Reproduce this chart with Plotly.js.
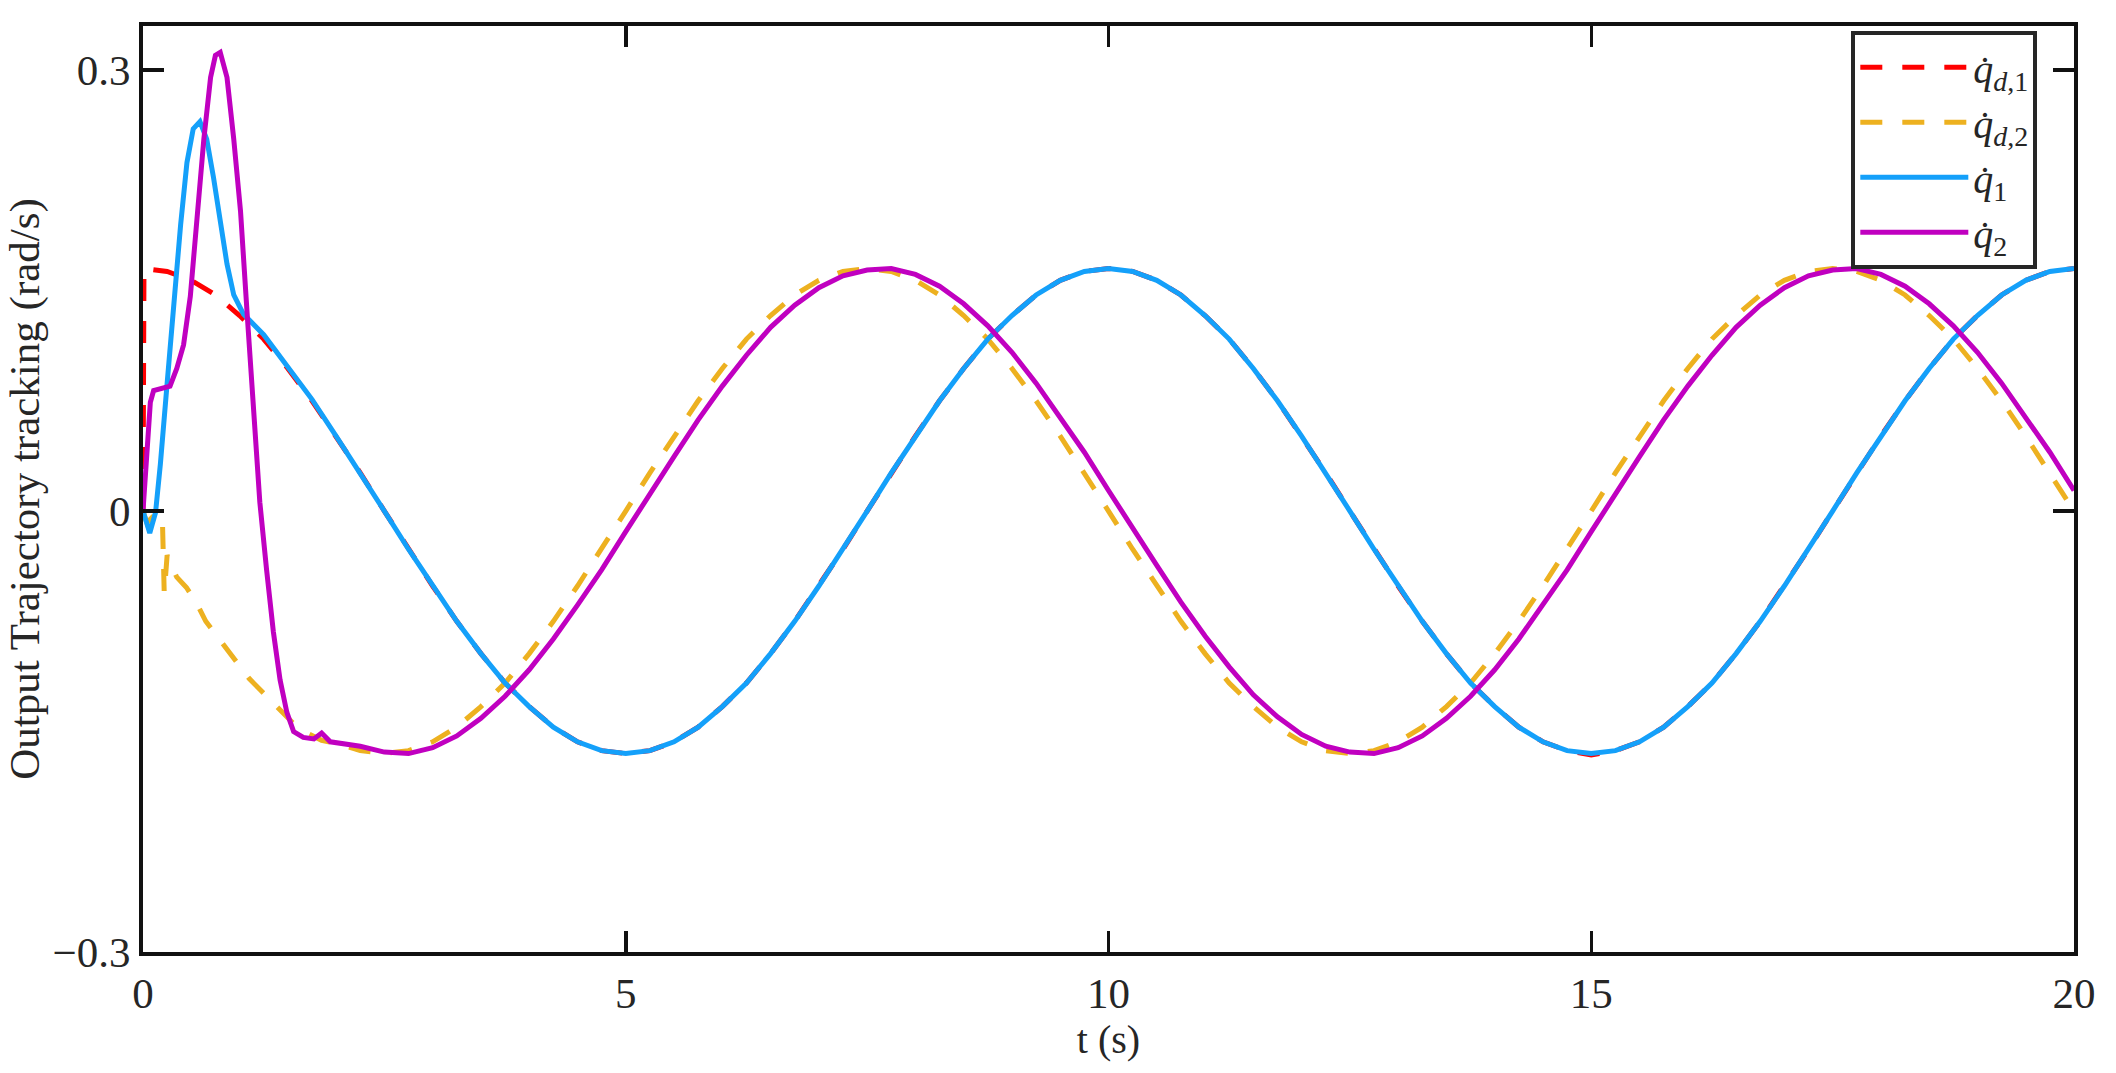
<!DOCTYPE html>
<html>
<head>
<meta charset="utf-8">
<script src="https://cdn.plot.ly/plotly-3.0.1.min.js"></script>
<style>
  html, body { margin: 0; padding: 0; background: #ffffff; }
  #chart { width: 2116px; height: 1073px; }
</style>
</head>
<body>
<div id="chart"></div>
<script>
// ---------------- data ----------------
// common steady-state time grid (s)
const tGrid = [2.25, 2.5, 2.75, 3, 3.25, 3.5, 3.75, 4, 4.25, 4.5, 4.75, 5,
  5.25, 5.5, 5.75, 6, 6.25, 6.5, 6.75, 7, 7.25, 7.5, 7.75, 8, 8.25, 8.5, 8.75, 9,
  9.25, 9.5, 9.75, 10, 10.25, 10.5, 10.75, 11, 11.25, 11.5, 11.75, 12, 12.25, 12.5,
  12.75, 13, 13.25, 13.5, 13.75, 14, 14.25, 14.5, 14.75, 15, 15.25, 15.5, 15.75, 16,
  16.25, 16.5, 16.75, 17, 17.25, 17.5, 17.75, 18, 18.25, 18.5, 18.75, 19, 19.25,
  19.5, 19.75, 20];

// desired velocity of joint 1 (red dashed)
const tQd1 = [0, 0.01, 0.25, 0.5, 0.75, 1, 1.25, 1.5, 1.75, 2].concat(tGrid);
const qd1 = [0, 0.165, 0.163, 0.157, 0.147, 0.133, 0.117, 0.097, 0.075, 0.051,
  0.026, 0, -0.026, -0.051, -0.075, -0.097, -0.117, -0.133, -0.147, -0.157, -0.163, -0.165,
  -0.163, -0.157, -0.147, -0.133, -0.117, -0.097, -0.075, -0.051, -0.026, 0, 0.026, 0.051,
  0.075, 0.097, 0.117, 0.133, 0.147, 0.157, 0.163, 0.165, 0.163, 0.157, 0.147, 0.133, 0.117,
  0.097, 0.075, 0.051, 0.026, 0, -0.026, -0.051, -0.075, -0.097, -0.117, -0.133, -0.147,
  -0.157, -0.163, -0.166, -0.163, -0.157, -0.147, -0.133, -0.117, -0.097, -0.075, -0.051,
  -0.026, 0, 0.026, 0.051, 0.075, 0.097, 0.117, 0.133, 0.147, 0.157, 0.163, 0.165];

// desired velocity of joint 2 (orange dashed)
const tQd2 = [0, 0.04, 0.1, 0.2, 0.22, 0.25, 0.3, 0.35, 0.45, 0.55, 0.65, 0.8, 0.95,
  1.1, 1.25, 1.4, 1.55, 1.7, 1.85, 2].concat(tGrid);
const qd2 = [0, -0.008, -0.004, -0.003, -0.056, -0.030, -0.038, -0.045, -0.052, -0.062,
  -0.075, -0.088, -0.100, -0.114, -0.124, -0.134, -0.144, -0.151, -0.156, -0.158,
  -0.163, -0.165, -0.163, -0.157, -0.147, -0.133, -0.117, -0.097, -0.075, -0.051, -0.026, 0,
  0.026, 0.051, 0.075, 0.097, 0.117, 0.133, 0.147, 0.157, 0.163, 0.165, 0.163, 0.157, 0.147,
  0.133, 0.117, 0.097, 0.075, 0.051, 0.026, 0, -0.026, -0.051, -0.075, -0.097, -0.117,
  -0.133, -0.147, -0.157, -0.163, -0.165, -0.163, -0.157, -0.147, -0.133, -0.117, -0.097,
  -0.075, -0.051, -0.026, 0, 0.026, 0.051, 0.075, 0.097, 0.117, 0.133, 0.147, 0.157, 0.163,
  0.165, 0.163, 0.157, 0.147, 0.133, 0.117, 0.097, 0.075, 0.051, 0.026, 0];

// measured velocity of joint 1 (blue)
const tQ1 = [0, 0.07, 0.13, 0.18, 0.25, 0.32, 0.39, 0.455, 0.52, 0.59, 0.66, 0.73, 0.8,
  0.87, 0.94, 1.04, 1.25, 1.5, 1.75, 2].concat(tGrid);
const q1 = [0, -0.015, -0.001, 0.032, 0.087, 0.142, 0.195, 0.237, 0.260, 0.265, 0.253,
  0.227, 0.198, 0.168, 0.147, 0.134, 0.120, 0.098, 0.076, 0.051,
  0.026, 0, -0.026, -0.051, -0.075, -0.097, -0.117, -0.133, -0.147, -0.157, -0.163, -0.165,
  -0.163, -0.157, -0.147, -0.133, -0.117, -0.097, -0.075, -0.051, -0.026, 0, 0.026, 0.051,
  0.075, 0.097, 0.117, 0.133, 0.147, 0.157, 0.163, 0.165, 0.163, 0.157, 0.147, 0.133, 0.117,
  0.097, 0.075, 0.051, 0.026, 0, -0.026, -0.051, -0.075, -0.097, -0.117, -0.133, -0.147,
  -0.157, -0.163, -0.165, -0.163, -0.157, -0.147, -0.133, -0.117, -0.097, -0.075, -0.051,
  -0.026, 0, 0.026, 0.051, 0.075, 0.097, 0.117, 0.133, 0.147, 0.157, 0.163, 0.165];

// measured velocity of joint 2 (magenta)
const tQ2 = [0, 0.04, 0.076, 0.11, 0.21, 0.28, 0.35, 0.42, 0.49, 0.56, 0.63, 0.7, 0.75,
  0.8, 0.87, 0.94, 1.01, 1.08, 1.145, 1.21, 1.28, 1.35, 1.42, 1.49, 1.56, 1.66, 1.77,
  1.85, 1.94].concat(tGrid);
const q2 = [0, 0.042, 0.074, 0.082, 0.084, 0.085, 0.097, 0.113, 0.146, 0.198, 0.253,
  0.295, 0.310, 0.312, 0.295, 0.253, 0.204, 0.133, 0.068, 0.006, -0.040, -0.082, -0.115,
  -0.137, -0.150, -0.154, -0.155, -0.151, -0.157,
  -0.160, -0.164, -0.165, -0.161, -0.153, -0.141, -0.126, -0.108, -0.087, -0.064, -0.040,
  -0.014, 0.012, 0.037, 0.062, 0.085, 0.106, 0.125, 0.140, 0.152, 0.160, 0.164, 0.165, 0.161,
  0.153, 0.141, 0.126, 0.108, 0.087, 0.064, 0.040, 0.014, -0.012, -0.037, -0.062, -0.085,
  -0.106, -0.125, -0.140, -0.152, -0.160, -0.164, -0.165, -0.161, -0.153, -0.141, -0.126,
  -0.108, -0.087, -0.064, -0.040, -0.014, 0.012, 0.037, 0.062, 0.085, 0.106, 0.125, 0.140,
  0.152, 0.160, 0.164, 0.165, 0.161, 0.153, 0.141, 0.126, 0.108, 0.087, 0.064, 0.040, 0.014];

const xTicks = [0, 5, 10, 15, 20];
const yTicks = [-0.3, 0, 0.3];
const yTickText = ['\u22120.3', '0', '0.3'];

const names = [
  '<i>q\u0307</i><sub><i>d</i>,1</sub>',
  '<i>q\u0307</i><sub><i>d</i>,2</sub>',
  '<i>q\u0307</i><sub>1</sub>',
  '<i>q\u0307</i><sub>2</sub>'
];

// ---------------- chart ----------------
const serif = '"Liberation Serif", "Times New Roman", serif';
const traces = [
  { x: tQd1, y: qd1, name: names[0], mode: 'lines',
    line: { color: '#FF0000', width: 5, dash: '22px,20px' } },
  { x: tQd2, y: qd2, name: names[1], mode: 'lines',
    line: { color: '#EDB120', width: 5, dash: '22px,20px' } },
  { x: tQ1, y: q1, name: names[2], mode: 'lines',
    line: { color: '#14A0FA', width: 5 } },
  { x: tQ2, y: q2, name: names[3], mode: 'lines',
    line: { color: '#C000C0', width: 5 } }
];

const axisCommon = {
  showline: true, linecolor: '#111111', linewidth: 4, mirror: 'ticks',
  ticks: 'inside', ticklen: 21, tickwidth: 3.5, tickcolor: '#111111',
  showgrid: false, zeroline: false,
  tickfont: { family: serif, size: 43, color: '#262626' }
};

const layout = {
  width: 2116, height: 1073,
  margin: { l: 143, r: 42, t: 26, b: 121 },
  paper_bgcolor: '#ffffff', plot_bgcolor: '#ffffff',
  showlegend: true,
  xaxis: Object.assign({}, axisCommon, {
    range: [0, 20], tickvals: xTicks, ticktext: xTicks.map(String),
    title: { text: 't (s)', font: { family: serif, size: 40, color: '#262626' }, standoff: 0 }
  }),
  yaxis: Object.assign({}, axisCommon, {
    range: [-0.3, 0.33], tickvals: yTicks, ticktext: yTickText,
    title: { text: 'Output Trajectory tracking (rad/s)\u00a0\u00a0\u00a0\u00a0\u00a0\u00a0',
             font: { family: serif, size: 43, color: '#262626' }, standoff: 0 }
  }),
  legend: {
    x: 0.981, y: 0.995, xanchor: 'right', yanchor: 'top',
    bgcolor: '#ffffff', bordercolor: '#262626', borderwidth: 4,
    font: { family: serif, size: 40, color: '#262626' },
    itemwidth: 108, tracegroupgap: 0
  }
};

Plotly.newPlot('chart', traces, layout, { displayModeBar: false, staticPlot: true });
</script>
</body>
</html>
